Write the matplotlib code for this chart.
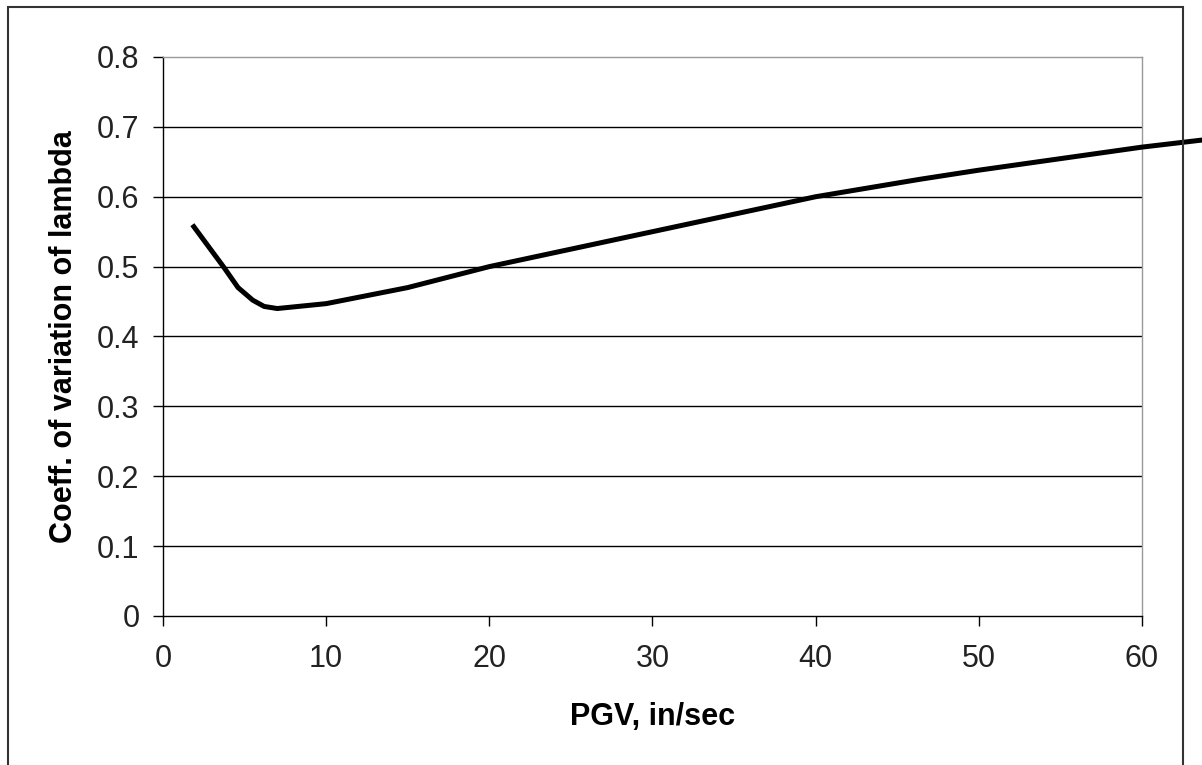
import numpy as np
import matplotlib
matplotlib.use("Agg")
from matplotlib import pyplot as plt
from matplotlib.patches import Rectangle

# PGV, in/sec と変動係数
pgv = [1.8, 3.7, 4.6, 5.5, 6.2, 7.0, 10, 15, 20, 30, 40, 46.4, 50, 60, 64]
cov = [0.56, 0.50, 0.47, 0.452, 0.443, 0.44, 0.447, 0.47, 0.50, 0.55, 0.60, 0.625, 0.638, 0.671, 0.682]

x_ticks = [0, 10, 20, 30, 40, 50, 60]
y_ticks = [0, 0.1, 0.2, 0.3, 0.4, 0.5, 0.6, 0.7, 0.8]

def main():
    plt.rcParams['font.family'] = ['Liberation Sans', 'DejaVu Sans']

    fig = plt.figure(figsize=(12.02, 7.65), dpi=100)
    ax = fig.add_axes([0.1356, 0.1948, 0.8144, 0.7307])

    # 外枠
    fig.patches.append(Rectangle((8 / 1202, -0.05), (1183 - 8) / 1202, 1 - 7 / 765 + 0.05,
                                 transform=fig.transFigure, fill=False,
                                 edgecolor='#333333', linewidth=1.5, zorder=0))

    # 横グリッド
    for yv in y_ticks[1:-1]:
        ax.axhline(yv, color='black', linewidth=1.0, zorder=1)

    ax.plot(pgv, cov, color='black', linewidth=3.6, clip_on=False, zorder=3,
            solid_capstyle='butt')

    ax.set_xlim(0, 60)
    ax.set_ylim(0, 0.8)
    ax.set_xticks(x_ticks)
    ax.set_yticks(y_ticks)
    ax.set_yticklabels(['0', '0.1', '0.2', '0.3', '0.4', '0.5', '0.6', '0.7', '0.8'])

    ax.tick_params(axis='both', direction='out', length=7, width=1.0, labelsize=22,
                   labelcolor='#222222')
    ax.tick_params(axis='x', pad=13)
    ax.tick_params(axis='y', pad=10)

    for s in ['left', 'bottom']:
        ax.spines[s].set_color('black')
        ax.spines[s].set_linewidth(1.0)
    for s in ['top', 'right']:
        ax.spines[s].set_color('#999999')
        ax.spines[s].set_linewidth(1.0)
        ax.spines[s].set_linestyle((0, (1, 1)))

    ax.set_xlabel('PGV, in/sec', fontsize=22, fontweight='bold', labelpad=20)
    ax.set_ylabel('Coeff. of variation of lambda', fontsize=22, fontweight='bold', labelpad=13)

    fig.savefig('out.png', dpi=100)

if __name__ == "__main__":
    main()
